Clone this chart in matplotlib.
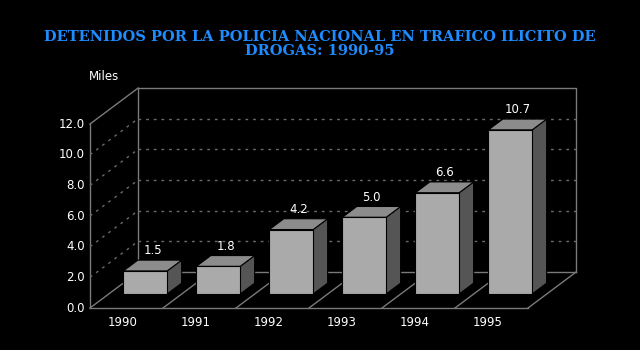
import matplotlib.pyplot as plt
from matplotlib.patches import Polygon

years = ['1990', '1991', '1992', '1993', '1994', '1995']
values = [1.5, 1.8, 4.2, 5.0, 6.6, 10.7]
ticks = [0, 2, 4, 6, 8, 10, 12]

# depth of the 3d box in data units, bar placement inside the depth
DX, DY = 0.66, 2.35
F0, FD = 0.39, 0.30
W = 0.6
YMAX = 12
N = len(years)

frame = '#7a7a7a'
grid = '#6a6a6a'

fig = plt.figure(figsize=(6.4, 3.5), dpi=100, facecolor='black')
ax = fig.add_axes([0, 0, 1, 1])
ax.set_facecolor('black')
ax.set_xlim(-90 / 73, 550 / 73)
ax.set_ylim(-42 / 15.333, 308 / 15.333)
ax.axis('off')

# walls and floor outline
ax.plot([0, 0], [0, YMAX], color=frame, lw=1)
ax.plot([0, N], [0, 0], color=frame, lw=1)
ax.plot([DX, DX, N + DX, N + DX], [DY, YMAX + DY, YMAX + DY, DY], color=frame, lw=1)
ax.plot([DX, N + DX], [DY, DY], color=frame, lw=1)
ax.plot([0, DX], [YMAX, YMAX + DY], color=frame, lw=1)
for i in range(N + 1):
    ax.plot([i, i + DX], [0, DY], color=frame, lw=1)

# grid on back wall and left wall
for t in ticks[1:-1]:
    ax.plot([DX, N + DX], [t + DY, t + DY], color=grid, lw=1, dashes=(2, 3.5))
    ax.plot([0, DX], [t, t + DY], color=grid, lw=1, dashes=(2, 3.5))

for t in ticks:
    ax.text(-0.07, t, f'{t:.1f}', color='white', fontsize=8.5,
            ha='right', va='center')
ax.text(-0.02, YMAX + 3.1, 'Miles', color='white', fontsize=8.5,
        ha='left', va='center')

# bars
for i, v in enumerate(values):
    x0 = i + (1 - W) / 2 + F0 * DX
    y0 = F0 * DY
    x1 = x0 + W
    y1 = y0 + v
    ddx, ddy = FD * DX, FD * DY
    front = [(x0, y0), (x1, y0), (x1, y1), (x0, y1)]
    side = [(x1, y0), (x1 + ddx, y0 + ddy), (x1 + ddx, y1 + ddy), (x1, y1)]
    top = [(x0, y1), (x1, y1), (x1 + ddx, y1 + ddy), (x0 + ddx, y1 + ddy)]
    ax.add_patch(Polygon(side, closed=True, facecolor='#555555',
                         edgecolor='black', lw=0.8, zorder=3))
    ax.add_patch(Polygon(top, closed=True, facecolor='#8c8c8c',
                         edgecolor='black', lw=0.8, zorder=3))
    ax.add_patch(Polygon(front, closed=True, facecolor='#aaaaaa',
                         edgecolor='black', lw=0.8, zorder=3))
    ax.text((x0 + x1) / 2 + ddx / 2, y1 + ddy + 0.6, f'{v:.1f}',
            color='white', fontsize=8.5, ha='center', va='center', zorder=4)
    ax.text(i + 0.45, -0.92, years[i], color='white', fontsize=8.5,
            ha='center', va='center')

fig.text(0.5, 1 - 44 / 350,
         'DETENIDOS POR LA POLICIA NACIONAL EN TRAFICO ILICITO DE\nDROGAS: 1990-95',
         color='#1e8cff', fontsize=10.5, fontweight='bold', family='DejaVu Serif',
         ha='center', va='center', linespacing=1.05)

fig.savefig('out.png', dpi=100, facecolor='black')
